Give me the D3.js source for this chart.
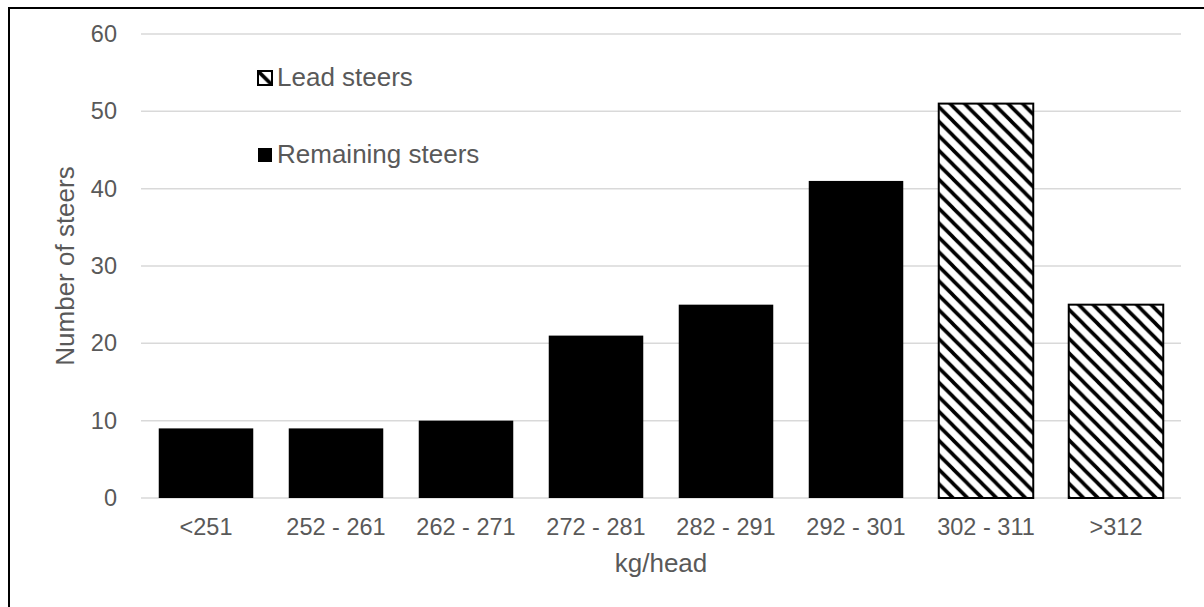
<!DOCTYPE html>
<html>
<head>
<meta charset="utf-8">
<script src="https://cdn.jsdelivr.net/npm/d3@7"></script>
<style>
  html, body { margin: 0; padding: 0; background: #fff; }
  svg { display: block; font-family: "Liberation Sans", Arial, sans-serif; }
</style>
</head>
<body>
<svg id="chart" width="1204" height="607"></svg>
<script>
// Weight classes (kg/head) and number of steers in each
const categories = ["<251", "252 - 261", "262 - 271", "272 - 281", "282 - 291", "292 - 301", "302 - 311", ">312"];
const counts = [9, 9, 10, 21, 25, 41, 51, 25];
const groups = ["Remaining", "Remaining", "Remaining", "Remaining", "Remaining", "Remaining", "Lead", "Lead"];
const yTicks = [0, 10, 20, 30, 40, 50, 60];
const legendItems = [
  { key: "Lead", label: "Lead steers" },
  { key: "Remaining", label: "Remaining steers" }
];

const svg = d3.select("#chart");
const margin = { left: 141, right: 23, top: 34, bottom: 109 };
const W = 1204, H = 607;
const plotW = W - margin.left - margin.right;
const plotH = H - margin.top - margin.bottom;
const textColor = "#595959";

// diagonal hatch used for the lead steers
const defs = svg.append("defs");
const P = 14.5;
const pat = defs.append("pattern")
  .attr("id", "hatch")
  .attr("patternUnits", "userSpaceOnUse")
  .attr("width", P).attr("height", P);
pat.append("rect").attr("width", P).attr("height", P).attr("fill", "#fff");
pat.append("path")
  .attr("d", `M-4,-4L${P + 4},${P + 4}M-4,${P - 4}L4,${P + 4}M${P - 4},-4L${P + 4},4`)
  .attr("stroke", "#000").attr("stroke-width", 3.6);

const fillFor = k => k === "Lead" ? "url(#hatch)" : "#000";

// chart frame
svg.append("path")
  .attr("d", `M9,${H + 2}V8H${W + 2}`)
  .attr("fill", "none").attr("stroke", "#000").attr("stroke-width", 2);

const g = svg.append("g").attr("transform", `translate(${margin.left},${margin.top})`);

const x = d3.scaleBand().domain(categories).range([0, plotW]).paddingInner(0.273).paddingOuter(0.1365);
const y = d3.scaleLinear().domain([0, 60]).range([plotH, 0]);

// horizontal gridlines
g.append("g").selectAll("line").data(yTicks).join("line")
  .attr("x1", 0).attr("x2", plotW)
  .attr("y1", d => y(d)).attr("y2", d => y(d))
  .attr("stroke", "#d9d9d9").attr("stroke-width", 1.5);

// y axis labels
const yAxis = g.append("g").call(d3.axisLeft(y).tickValues(yTicks).tickSize(0).tickPadding(24));
yAxis.select(".domain").remove();
yAxis.selectAll("text").attr("fill", textColor).style("font-size", "23.5px")
  .style("font-family", "'Liberation Sans', Arial, sans-serif");

// bars
const data = categories.map((c, i) => ({ cat: c, value: counts[i], group: groups[i] }));
g.append("g").selectAll("rect").data(data).join("rect")
  .attr("x", d => x(d.cat))
  .attr("width", x.bandwidth())
  .attr("y", d => y(d.value))
  .attr("height", d => y(0) - y(d.value))
  .attr("fill", d => fillFor(d.group))
  .attr("stroke", d => d.group === "Lead" ? "#000" : "none")
  .attr("stroke-width", 2);

// x axis labels
const xAxis = g.append("g").attr("transform", `translate(0,${plotH})`)
  .call(d3.axisBottom(x).tickSize(0).tickPadding(20));
xAxis.select(".domain").remove();
xAxis.selectAll("text").attr("fill", textColor).style("font-size", "23.5px")
  .style("font-family", "'Liberation Sans', Arial, sans-serif");

// axis titles
svg.append("text")
  .attr("x", margin.left + plotW / 2).attr("y", 572)
  .attr("text-anchor", "middle").attr("fill", textColor)
  .style("font-size", "26px").text("kg/head");

svg.append("text")
  .attr("transform", `translate(74,${margin.top + plotH / 2}) rotate(-90)`)
  .attr("text-anchor", "middle").attr("fill", textColor)
  .style("font-size", "26px").text("Number of steers");

// legend
const legend = svg.append("g").attr("transform", "translate(258,0)");
const li = legend.selectAll("g").data(legendItems).join("g")
  .attr("transform", (d, i) => `translate(0,${71 + i * 77})`);
li.append("rect")
  .attr("width", 14).attr("height", 14)
  .attr("fill", d => d.key === "Lead" ? "url(#hatch)" : "#000")
  .attr("stroke", "#000").attr("stroke-width", d => d.key === "Lead" ? 2 : 0);
li.append("text")
  .attr("x", 19).attr("y", 15)
  .attr("fill", textColor).style("font-size", "26px")
  .text(d => d.label);
</script>
</body>
</html>
